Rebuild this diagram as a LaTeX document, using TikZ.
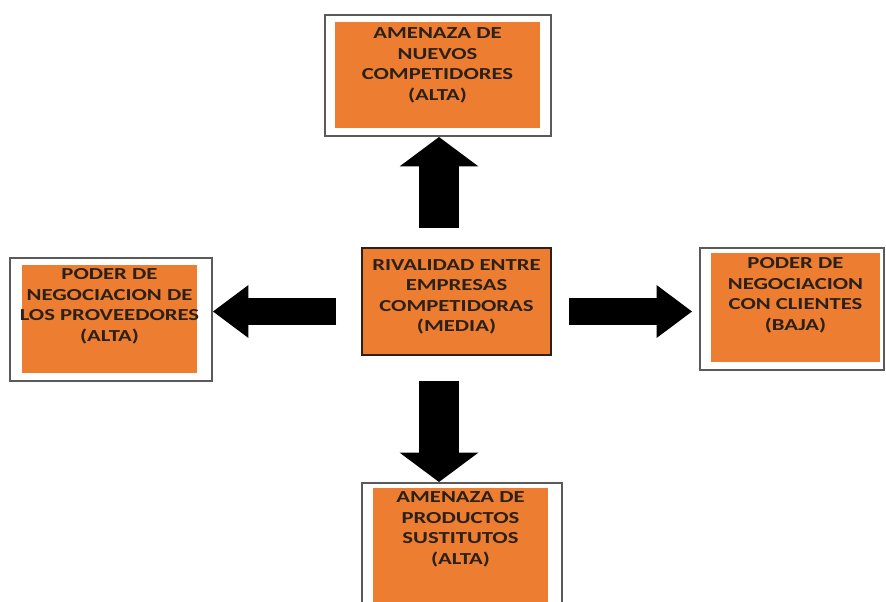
\documentclass[tikz,border=0pt]{standalone}
\usepackage{fontspec}
\newfontfamily\boxfont[FakeStretch=1.35]{Carlito}
\usetikzlibrary{arrows.meta}
\definecolor{boxOrange}{HTML}{ED7D31}
\definecolor{frameGray}{HTML}{5A5A5A}
\definecolor{textDark}{HTML}{2B2118}

\begin{document}
\begin{tikzpicture}
[x=0.75pt,y=-0.75pt,
  frameDecorate/.style={draw=frameGray,line width=1.5pt,fill=white,inner sep=0pt},%
  boxDecorate/.style={fill=boxOrange,inner sep=0pt},%
  textDecorate/.style={anchor=north,inner sep=0pt,align=center,text=textDark,
    font=\boxfont\bfseries\fontsize{12.6}{15.4}\selectfont},%
  arrowHoriz/.style={line width=20.25pt,-{Triangle[length=26.6pt,width=39.75pt,line width=0pt]}},%
  arrowVert/.style={line width=30pt,-{Triangle[length=22.1pt,width=59.25pt,line width=0pt]}}]
\useasboundingbox (0,0) rectangle (886,601);
\clip (0,0) rectangle (886,601);
%% outer frames
\foreach \nodename/\x/\y/\w/\h in {topFrame/438/75.5/226/121, leftFrame/111/319.5/202/123,
    rightFrame/792/309/184/122, bottomFrame/462/568/200/170} {
  \node (\nodename) at (\x,\y) [frameDecorate,minimum width=\w*0.75pt,minimum height=\h*0.75pt] {};
}
%% orange boxes
\foreach \nodename/\x/\y/\w/\h in {nuevos/437.5/75/205/106, proveedores/109.5/319/175/108,
    clientes/795.5/307.5/169/109, sustitutos/460.5/574/175/172} {
  \node (\nodename) at (\x,\y) [boxDecorate,minimum width=\w*0.75pt,minimum height=\h*0.75pt] {};
}
\node (rivalidad) at (456.5,301.5) [boxDecorate,draw=textDark,line width=0.8pt,
  minimum width=189*0.75pt,minimum height=107*0.75pt] {};
%% texts
\foreach \nodename/\shift/\txt in {nuevos/4.2/{AMENAZA DE\\NUEVOS\\COMPETIDORES\\(ALTA)},
    proveedores/2.7/{PODER DE\\NEGOCIACION DE\\LOS PROVEEDORES\\(ALTA)},
    clientes/3.5/{PODER DE\\NEGOCIACION\\CON CLIENTES\\(BAJA)},
    sustitutos/2.7/{AMENAZA DE\\PRODUCTOS\\SUSTITUTOS\\(ALTA)},
    rivalidad/8.7/{RIVALIDAD ENTRE\\EMPRESAS\\COMPETIDORAS\\(MEDIA)}} {
  \node (\nodename Text) at ([yshift=-\shift pt]\nodename.north) [textDecorate] {\txt};
}
%% arrows
\coordinate (hub) at (439,311.5);
\path
(rivalidad.north -| hub) edge[arrowVert,shorten <=14.25pt] (topFrame.south -| hub)
(rivalidad.south -| hub) edge[arrowVert,shorten <=18.75pt] (bottomFrame.north -| hub)
(rivalidad.west |- hub) edge[arrowHoriz,shorten <=18.75pt] (leftFrame.east |- hub)
(rivalidad.east |- hub) edge[arrowHoriz,shorten <=12.75pt,shorten >=5.25pt] (rightFrame.west |- hub);
\end{tikzpicture}
\end{document}
